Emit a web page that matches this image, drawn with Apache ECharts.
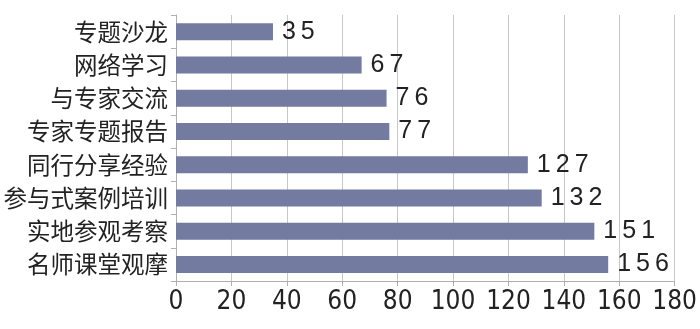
<!DOCTYPE html>
<html><head><meta charset="utf-8">
<script src="https://cdn.jsdelivr.net/npm/echarts@6/dist/echarts.min.js"></script>
<style>html,body{margin:0;padding:0;background:#fff}#c{width:700px;height:329px}</style>
</head><body><div id="c"></div>
<script>
var categories = ['专题沙龙','网络学习','与专家交流','专家专题报告','同行分享经验','参与式案例培训','实地参观考察','名师课堂观摩'];
var values = [35,67,76,77,127,132,151,156];
var xTicks = [0,20,40,60,80,100,120,140,160,180];

var chart = echarts.init(document.getElementById('c'));
chart.setOption({
  animation:false,
  backgroundColor:'#fff',
  grid:{left:176,right:23,top:15,bottom:48,containLabel:false},
  xAxis:{type:'value',min:xTicks[0],max:xTicks[xTicks.length-1],interval:20,
    axisLine:{show:true,lineStyle:{color:'#b0b0b0',width:1}},
    axisTick:{show:true,length:5,lineStyle:{color:'#b0b0b0'}},
    splitLine:{show:true,lineStyle:{color:'#c8c8c8',width:1}},
    axisLabel:{fontFamily:'Liberation Sans Narrow, DejaVu Sans Condensed, sans-serif',fontSize:26,color:'#222',margin:8}
  },
  yAxis:{type:'category',inverse:true,data:categories,
    axisLine:{show:true,lineStyle:{color:'#b0b0b0',width:1}},
    axisTick:{show:true,length:5,lineStyle:{color:'#b0b0b0'}},
    axisLabel:{fontFamily:'Noto Sans CJK SC',fontSize:23.5,color:'#222',margin:8}
  },
  series:[{type:'bar',data:values,barWidth:17,
    itemStyle:{color:'#737ba0'},
    label:{show:true,position:'right',distance:9,fontFamily:'Liberation Sans, Arial, sans-serif',fontSize:25,color:'#222',
      formatter:function(p){return String(p.value).split('').join('\u2009');}}
  }]
});
</script></body></html>
